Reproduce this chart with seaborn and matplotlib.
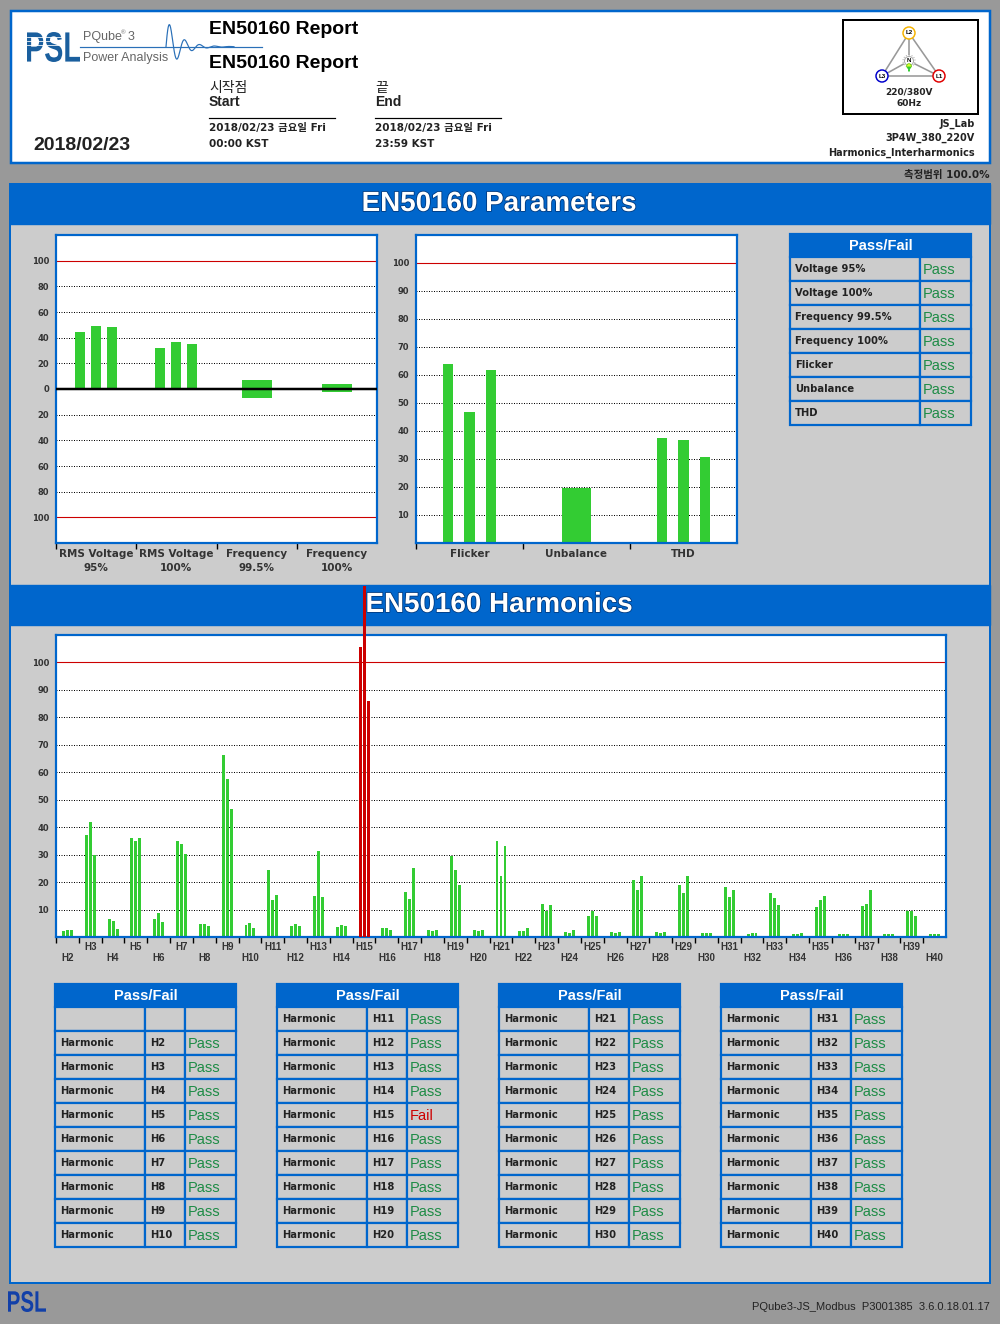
import numpy as np
import pandas as pd
import matplotlib
matplotlib.use("Agg")
import matplotlib.pyplot as plt
import matplotlib.patheffects as pe
import seaborn as sns
from matplotlib.patches import Rectangle, Circle, PathPatch
from matplotlib.textpath import TextPath
from matplotlib.font_manager import FontProperties
from matplotlib.transforms import Affine2D

plt.rcParams['font.family'] = ['Liberation Sans', 'Noto Sans CJK KR', 'DejaVu Sans']
WIDE = ['DejaVu Sans', 'Noto Sans CJK KR']

# %% values
param_cats = ["RMS Voltage\n95%", "RMS Voltage\n100%", "Frequency\n99.5%", "Frequency\n100%"]
phases = ["L1", "L2", "L3"]
rms_95 = [44.8, 49.2, 48.5]
rms_100 = [32.2, 36.9, 35.3]
freq_995 = [-7.0, 6.7]   # low, high
freq_100 = [-2.3, 3.6]

quality_cats = ["Flicker", "Unbalance", "THD"]
flicker = [64.0, 46.9, 61.9]
unbalance = 19.5
thd = [37.6, 36.9, 30.8]

param_names = ["Voltage 95%", "Voltage 100%", "Frequency 99.5%", "Frequency 100%",
               "Flicker", "Unbalance", "THD"]
param_status = ["Pass", "Pass", "Pass", "Pass", "Pass", "Pass", "Pass"]

harmonics = ["H%d" % n for n in range(2, 41)]
harm_l1 = [2.1, 37.2, 6.5, 36.2, 6.5, 35.1, 4.7, 66.4, 4.3, 24.3, 4.0, 14.9, 3.6,
           105.6, 3.2, 16.3, 2.5, 29.4, 2.5, 35.1, 2.1, 11.9, 1.8, 7.6, 1.8, 20.6,
           1.8, 18.8, 1.4, 18.1, 1.1, 15.9, 1.1, 10.9, 1.1, 11.2, 1.1, 9.4, 1.1]
harm_l2 = [2.5, 41.9, 5.8, 35.1, 8.7, 34.0, 4.7, 57.7, 5.0, 13.4, 4.7, 31.3, 4.3,
           128.0, 3.2, 13.8, 2.1, 24.3, 2.1, 22.4, 2.1, 9.4, 1.4, 9.4, 1.4, 17.0,
           1.4, 15.9, 1.4, 14.5, 1.4, 14.1, 1.1, 13.4, 1.1, 11.9, 1.1, 9.4, 1.1]
harm_l3 = [2.5, 29.9, 2.9, 35.9, 5.4, 30.4, 4.0, 46.5, 3.2, 15.2, 4.0, 14.5, 4.0,
           86.0, 2.5, 25.0, 2.5, 18.8, 2.5, 33.3, 3.2, 11.6, 2.5, 7.6, 1.8, 22.1,
           1.8, 22.4, 1.4, 17.0, 1.4, 11.6, 1.4, 14.9, 1.1, 17.0, 1.1, 7.6, 1.1]
harm_status = ["Pass"] * 13 + ["Fail"] + ["Pass"] * 25

# %% look
BLUE = "#0066cc"
GREEN = "#33cc33"
RED = "#cc0000"
PANEL = "#cccccc"
OUTER = "#999999"
PASS_GREEN = "#1e8c46"
TXT = "#222222"
PX = 0.72  # points per pixel at 100 dpi

fig = plt.figure(figsize=(10, 13.24), dpi=100)
fig.patch.set_facecolor(OUTER)
bg = fig.add_axes([0, 0, 1, 1])
bg.set_xlim(0, 1000)
bg.set_ylim(1324, 0)
bg.axis("off")


def px_axes(x0, y0, x1, y1):
    return fig.add_axes([x0 / 1000, 1 - y1 / 1324, (x1 - x0) / 1000, (y1 - y0) / 1324])


def logo(x0, y0, x1, y1, color):
    tp = TextPath((0, 0), "PSL", size=1, prop=FontProperties(family="Liberation Sans", weight="bold"))
    bb = tp.get_extents()
    sx = (x1 - x0) / bb.width
    sy = (y1 - y0) / bb.height
    tr = Affine2D().translate(-bb.x0, -bb.y0).scale(sx, -sy).translate(x0, y1)
    bg.add_patch(PathPatch(tr.transform_path(tp), facecolor=color, edgecolor="none"))


# header box
bg.add_patch(Rectangle((11, 11), 979, 152, facecolor="white", edgecolor=BLUE, lw=2.5 * PX))
logo(27, 32, 80, 62, "#1a5f9e")
for yy in (37, 41, 45):
    bg.plot([27, 62], [yy, yy], color="white", lw=0.8 * PX)
bg.plot([80, 262], [46.7, 46.7], color="#2a70b8", lw=1.2 * PX)
wx = np.linspace(166, 234, 400)
wy = 46.7 - 29 * np.exp(-(wx - 166) / 13) * np.sin(2 * np.pi * (wx - 166) / 15)
bg.plot(wx, wy, color="#2a70b8", lw=1.2 * PX)
bg.text(83, 37, "PQube", color="#666666", size=9, va="center")
bg.text(121, 33, "®", color="#666666", size=4.5, va="center")
bg.text(128, 37, "3", color="#666666", size=9, va="center")
bg.text(83, 58, "Power Analysis", color="#666666", size=9, va="center")

bg.text(209, 30, "EN50160 Report", size=14, weight="bold", color="black", va="center")
bg.text(209, 64, "EN50160 Report", size=14, weight="bold", color="black", va="center")
for xs, ko, en, day, tm in [(209, "시작점", "Start", "2018/02/23 금요일 Fri", "00:00 KST"),
                            (375, "끝", "End", "2018/02/23 금요일 Fri", "23:59 KST")]:
    bg.text(xs, 88, ko, size=10, color=TXT, va="center")
    bg.text(xs, 102, en, size=10, weight="bold", color=TXT, va="center")
    bg.plot([xs, xs + 126], [118, 118], color="black", lw=1.2 * PX)
    bg.text(xs, 128, day, size=7.5, weight="bold", color=TXT, va="center", family=WIDE)
    bg.text(xs, 144, tm, size=7.5, weight="bold", color=TXT, va="center", family=WIDE)
bg.text(33, 145, "2018/02/23", size=14, weight="bold", color=TXT, va="center")

# wiring diagram
bg.add_patch(Rectangle((843, 20), 135, 94, facecolor="white", edgecolor="black", lw=2 * PX))
nodes = {"L2": (909, 33, "#f5b300"), "L3": (882, 76, "#0000cc"), "L1": (939, 76, "#e00000")}
nx, ny = 909, 61
for a, b in [("L2", "L3"), ("L3", "L1"), ("L1", "L2")]:
    bg.plot([nodes[a][0], nodes[b][0]], [nodes[a][1], nodes[b][1]], color="#999999", lw=1.6 * PX, zorder=2)
for k, (cx, cy, c) in nodes.items():
    bg.plot([nx, cx], [ny, cy], color="#999999", lw=1.6 * PX, zorder=2)
    bg.add_patch(Circle((cx, cy), 6, facecolor="white", edgecolor=c, lw=1.5 * PX, zorder=3))
    bg.text(cx, cy, k, size=4.5, weight="bold", ha="center", va="center", zorder=4)
bg.add_patch(Circle((nx, ny), 6, facecolor="white", edgecolor="#aaaaaa", lw=1.0 * PX, ls=":", zorder=3))
bg.add_patch(Circle((nx, ny), 4.5, facecolor="white", edgecolor="#aaaaaa", lw=1.0 * PX, zorder=3))
bg.text(nx, ny, "N", size=4.5, weight="bold", ha="center", va="center", zorder=4)
bg.add_patch(Circle((nx, 66), 2.3, facecolor="#ddff33", edgecolor="#66cc00", lw=0.8 * PX, zorder=4))
bg.annotate("", xy=(nx, 74), xytext=(nx, 68),
            arrowprops=dict(arrowstyle="-|>", color="#33cc33", lw=1.2 * PX, mutation_scale=5), zorder=4)
bg.text(909, 92, "220/380V", size=6.5, weight="bold", color=TXT, ha="center", va="center", family=WIDE)
bg.text(909, 104, "60Hz", size=6.5, weight="bold", color=TXT, ha="center", va="center", family=WIDE)
for yy, s in [(124, "JS_Lab"), (138, "3P4W_380_220V"), (153, "Harmonics_Interharmonics")]:
    bg.text(975, yy, s, size=7, weight="bold", color=TXT, ha="right", va="center", family=WIDE)
bg.text(990, 175, "측정범위 100.0%", size=7.5, weight="bold", color=TXT, ha="right", va="center",
        family=WIDE)

# main panel and banners
bg.add_patch(Rectangle((10, 184), 980, 1099, facecolor=PANEL, edgecolor=BLUE, lw=2 * PX))
for y0, title in [(184, "EN50160 Parameters"), (585, "EN50160 Harmonics")]:
    bg.add_patch(Rectangle((10, y0), 980, 40, facecolor=BLUE, edgecolor=BLUE, lw=1))
    bg.text(499, y0 + 20, title, size=20, weight="bold", color="white", ha="center", va="center",
            path_effects=[pe.withStroke(linewidth=1.2, foreground="#003a80")])


def cell(x, y, w, h, fc=PANEL):
    bg.add_patch(Rectangle((x, y), w, h, facecolor=fc, edgecolor=BLUE, lw=2.2 * PX))


def pass_table(x0, y0, widths, rows, row_h=24, title_h=23):
    total = sum(widths)
    cell(x0, y0, total, title_h, BLUE)
    bg.text(x0 + total / 2, y0 + title_h / 2 + 0.5, "Pass/Fail", color="white", weight="bold",
            size=10.5, ha="center", va="center")
    y = y0 + title_h
    for row in rows:
        x = x0
        for w, s in zip(widths, row):
            cell(x, y, w, row_h)
            if s in ("Pass", "Fail"):
                bg.text(x + 3, y + row_h / 2 + 0.5, s, size=10.5,
                        color=PASS_GREEN if s == "Pass" else RED, va="center")
            elif s:
                bg.text(x + 5, y + row_h / 2, s, size=7.2, weight="bold", color=TXT, va="center",
                        family=WIDE)
            x += w
        y += row_h


pass_table(790, 234, [130, 51], list(zip(param_names, param_status)))

harm_rows = [("", "", "")] + [("Harmonic", h, s) for h, s in zip(harmonics, harm_status)]
for k, x0 in enumerate([55, 277, 499, 721]):
    pass_table(x0, 984, [90, 40, 51], harm_rows[k * 10:(k + 1) * 10])

bg.text(990, 1307, "PQube3-JS_Modbus  P3001385  3.6.0.18.01.17", size=8, color=TXT,
        ha="right", va="center")
logo(8, 1291, 46, 1312, "#1240a8")


def style_axes(ax):
    ax.set_facecolor("white")
    ax.set_xlabel("")
    ax.set_ylabel("")
    for sp in ax.spines.values():
        sp.set_visible(True)
        sp.set_color(BLUE)
        sp.set_linewidth(2.2 * PX)
    ax.tick_params(axis="y", length=0, pad=5, labelcolor="#333333")
    ax.tick_params(axis="x", which="major", length=4, width=1, color="black", direction="out")
    ax.tick_params(axis="x", which="minor", length=0, labelcolor="#333333")
    for lab in ax.get_yticklabels():
        lab.set_fontweight("bold")
        lab.set_fontsize(6)
        lab.set_family("DejaVu Sans")


def gridlines(ax, dotted, red):
    for v in dotted:
        ax.axhline(v, color="black", lw=1.0 * PX, ls=(0, (1, 1.5)), zorder=0.5)
    for v in red:
        ax.axhline(v, color=RED, lw=1.1 * PX, zorder=0.5)


def cat_ticks(ax, labels, size, pad, linespacing=1.3, family="DejaVu Sans"):
    n = len(labels)
    ax.set_xticks(np.arange(n) - 0.5)
    ax.set_xticklabels([])
    ax.set_xticks(np.arange(n), minor=True)
    ax.set_xticklabels(labels, minor=True, fontsize=size, fontweight="bold",
                       linespacing=linespacing, va="top", family=family)
    ax.tick_params(axis="x", which="minor", pad=pad)
    ax.set_xlim(-0.5, n - 0.5)


# %% parameters left: rms voltage / frequency
ax1 = px_axes(56, 235, 377, 543)
volt_df = pd.DataFrame({"category": [param_cats[0]] * 3 + [param_cats[1]] * 3,
                        "phase": phases * 2,
                        "value": rms_95 + rms_100})
sns.barplot(data=volt_df, x="category", y="value", hue="phase", order=param_cats,
            palette=[GREEN] * 3, width=0.6, gap=0.375, saturation=1, errorbar=None,
            legend=False, ax=ax1)
freq_lo = [freq_995[0], freq_100[0]]
freq_hi = [freq_995[1], freq_100[1]]
ax1.bar([2, 3], np.subtract(freq_hi, freq_lo), bottom=freq_lo, width=0.375, color=GREEN)
ax1.set_ylim(-120, 120)
gridlines(ax1, [-80, -60, -40, -20, 20, 40, 60, 80], [-100, 100])
ax1.axhline(0, color="black", lw=2.5 * PX, zorder=3)
ax1.set_yticks(range(-100, 101, 20))
ax1.set_yticklabels([str(abs(v)) for v in range(-100, 101, 20)])
style_axes(ax1)
cat_ticks(ax1, param_cats, 7.5, 4, 1.6)

# %% parameters right: flicker / unbalance / thd
ax2 = px_axes(416, 235, 737, 543)
qual_df = pd.DataFrame({"category": ["Flicker"] * 3 + ["THD"] * 3,
                        "phase": phases * 2,
                        "value": flicker + thd})
sns.barplot(data=qual_df, x="category", y="value", hue="phase", order=quality_cats,
            palette=[GREEN] * 3, width=0.6, gap=0.53, saturation=1, errorbar=None,
            legend=False, ax=ax2)
ax2.bar([1], [unbalance], width=0.28, color=GREEN)
ax2.set_ylim(0, 110)
gridlines(ax2, range(10, 100, 10), [100])
ax2.set_yticks(range(10, 101, 10))
style_axes(ax2)
cat_ticks(ax2, quality_cats, 7.5, 4)

# %% harmonics
ax3 = px_axes(56, 635, 946, 937)
harm_df = pd.DataFrame({"harmonic": harmonics * 3,
                        "phase": ["L1"] * 39 + ["L2"] * 39 + ["L3"] * 39,
                        "value": harm_l1 + harm_l2 + harm_l3})
sns.barplot(data=harm_df, x="harmonic", y="value", hue="phase", order=harmonics,
            palette=[GREEN] * 3, width=0.525, gap=0.26, saturation=1, errorbar=None,
            legend=False, ax=ax3)
fail_idx = harm_status.index("Fail")
for p in ax3.patches:
    p.set_linewidth(0)
    if round(p.get_x() + p.get_width() / 2) == fail_idx:
        p.set_facecolor(RED)
        p.set_clip_on(False)
        p.set_zorder(5)
ax3.set_ylim(0, 110)
gridlines(ax3, range(10, 100, 10), [100])
ax3.set_yticks(range(10, 101, 10))
style_axes(ax3)
harm_labels = [h if int(h[1:]) % 2 else "\n" + h for h in harmonics]
cat_ticks(ax3, harm_labels, 7, 3.5, 1.15, family="Liberation Sans")

fig.savefig("out.png", dpi=100, facecolor=OUTER)
